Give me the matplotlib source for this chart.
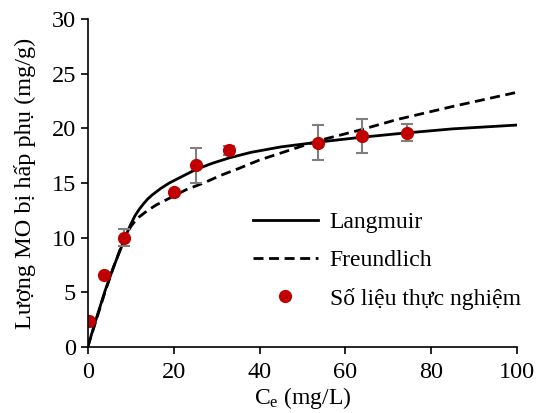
import numpy as np
import matplotlib
matplotlib.use("Agg")
import matplotlib.pyplot as plt

# fonts: Times-like look
plt.rcParams['font.family'] = ['Liberation Serif', 'DejaVu Serif']
plt.rcParams['mathtext.fontset'] = 'custom'
plt.rcParams['mathtext.rm'] = 'Liberation Serif'
plt.rcParams['mathtext.it'] = 'Liberation Serif:italic'

# *** DATA ***
# experimental points
ce_exp = [0.2, 3.7, 8.4, 20.0, 25.2, 32.9, 53.6, 63.9, 74.4]
qe_exp = [2.4, 6.6, 10.0, 14.2, 16.6, 18.0, 18.7, 19.3, 19.6]
qe_err = [0.0, 0.0, 0.8, 0.0, 1.6, 0.4, 1.6, 1.55, 0.8]

# model curves
ce_lang = [0, 2, 4, 6, 8, 9, 10, 11, 12, 13, 14, 15, 17, 19, 22, 25, 29, 33,
           38, 45, 54, 63, 72, 85, 100]
qe_lang = [0, 2.6, 5.1, 7.3, 9.3, 10.3, 11.2, 12.0, 12.6, 13.1, 13.55, 13.9,
           14.5, 15.0, 15.6, 16.2, 16.8, 17.3, 17.8, 18.3, 18.75, 19.15, 19.5,
           19.95, 20.3]

ce_freu = [0, 2, 4, 6, 8, 9, 10, 11, 12, 14, 16, 18, 20, 23, 27, 31, 35, 40,
           47, 54, 63, 72, 85, 100]
qe_freu = [0, 2.5, 5.0, 7.3, 9.4, 10.3, 11.0, 11.5, 11.9, 12.5, 13.0, 13.4,
           13.8, 14.4, 15.0, 15.7, 16.3, 17.1, 18.0, 18.9, 19.8, 20.8, 22.0,
           23.3]

# *** PLOT ***
fig = plt.figure(figsize=(5.45, 4.13), dpi=100)
ax = fig.add_axes([0.161, 0.160, 0.788, 0.794])

ax.plot(ce_lang, qe_lang, color='black', lw=2, label='Langmuir')
ax.plot(ce_freu, qe_freu, color='black', lw=2, ls=(0, (3.6, 2.0)), label='Freundlich')
ax.errorbar(ce_exp, qe_exp, yerr=qe_err, fmt='none', ecolor='#7f7f7f',
            elinewidth=1.5, capsize=4, capthick=1.5)
ax.plot(ce_exp, qe_exp, 'o', color='#C00000', ms=8.5, ls='none',
        label='Số liệu thực nghiệm')

ax.set_xlim(0, 100)
ax.set_ylim(0, 30)
ax.set_xticks(range(0, 101, 20))
ax.set_yticks(range(0, 31, 5))
ax.spines['top'].set_visible(False)
ax.spines['right'].set_visible(False)
ax.spines['left'].set_linewidth(1.2)
ax.spines['bottom'].set_linewidth(1.2)
ax.tick_params(direction='out', length=5, width=1.2, labelsize=17.5)
ax.tick_params(axis='x', pad=6)

ax.set_xlabel('C$_\\mathrm{e}$ (mg/L)', fontsize=17, labelpad=1)
ax.set_ylabel('Lượng MO bị hấp phụ (mg/g)', fontsize=17.5, labelpad=11)

ax.legend(loc='lower right', bbox_to_anchor=(1.03, 0.085), frameon=False,
          fontsize=17, handlelength=2.75, handletextpad=0.5, labelspacing=0.7,
          borderaxespad=0)

plt.savefig('out.png', dpi=100)
